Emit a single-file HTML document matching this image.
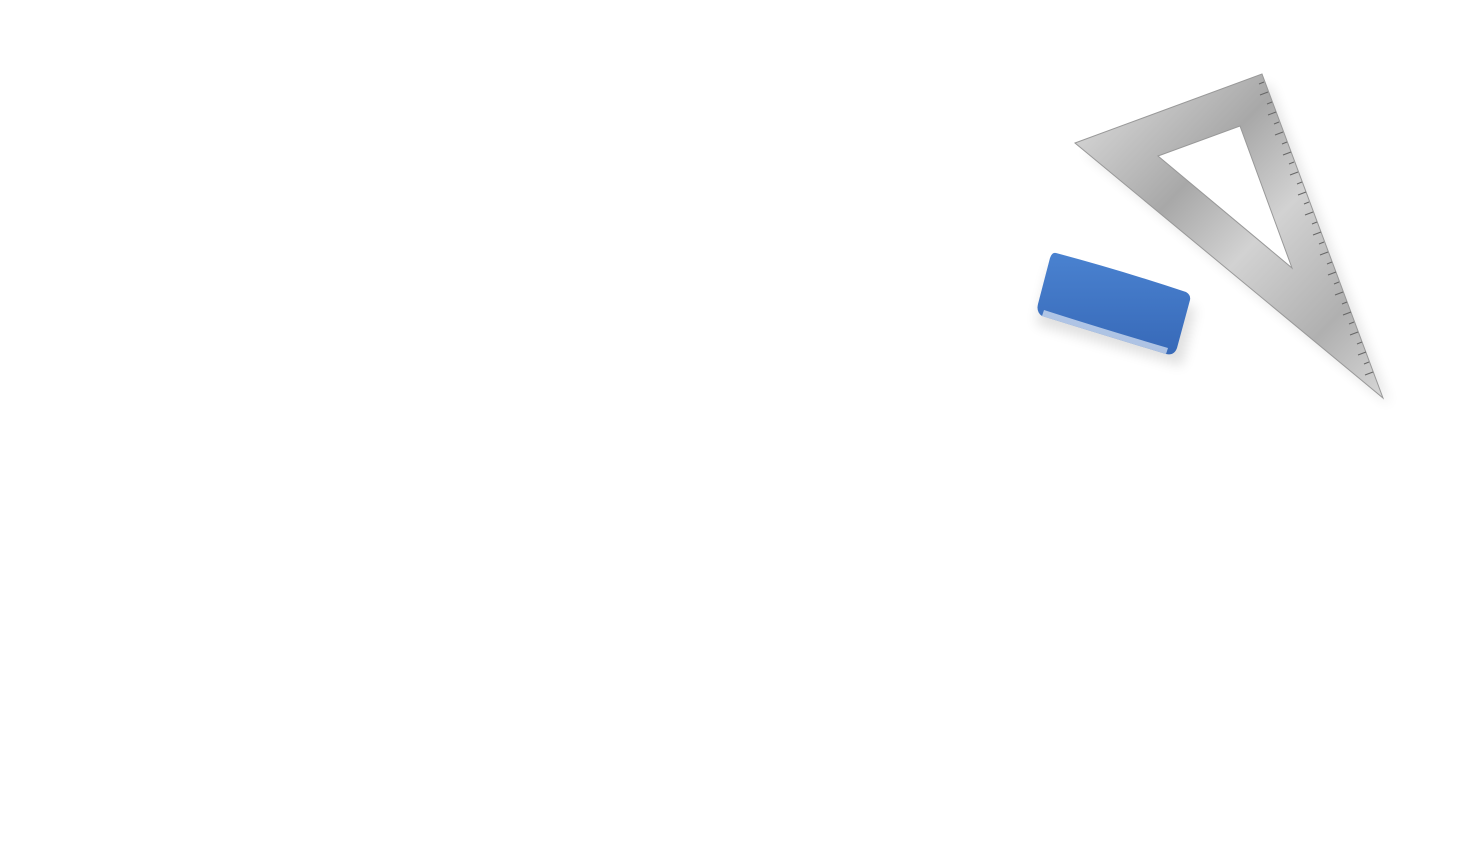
<!DOCTYPE html>
<html><head><meta charset="utf-8"><style>
html,body{margin:0;padding:0;background:#fff;width:1458px;height:859px;overflow:hidden}
</style></head><body>
<svg width="1458" height="859" viewBox="0 0 1458 859" xmlns="http://www.w3.org/2000/svg">
<defs>
<linearGradient id="m" x1="0" y1="0" x2="1" y2="1">
<stop offset="0" stop-color="#e2e2e2"/><stop offset="0.35" stop-color="#a8a8a8"/>
<stop offset="0.55" stop-color="#d2d2d2"/><stop offset="0.8" stop-color="#b0b0b0"/><stop offset="1" stop-color="#d6d6d6"/>
</linearGradient>
<linearGradient id="b" x1="0" y1="0" x2="0" y2="1">
<stop offset="0" stop-color="#4a82d0"/><stop offset="1" stop-color="#3769b8"/>
</linearGradient>
<filter id="s" x="-20%" y="-20%" width="140%" height="140%"><feGaussianBlur stdDeviation="6"/></filter>
</defs>
<path d="M1085 152 L1270 84 L1390 405 Z" fill="#000" opacity="0.1" filter="url(#s)"/>
<path d="M1158 156 L1240 126 L1292 268 Z" fill="#fff"/>
<path fill-rule="evenodd" d="M1075 143 L1262 74 L1383 398 Z M1158 156 L1240 126 L1292 268 Z" fill="url(#m)" stroke="#999" stroke-width="1"/>
<g stroke="#666" stroke-width="1">
<path d="M1264 82 l-5 2 M1268 92 l-8 3 M1272 102 l-5 2 M1276 112 l-8 3 M1279 122 l-5 2 M1283 132 l-8 3 M1287 142 l-5 2 M1291 152 l-8 3 M1294 162 l-5 2 M1298 172 l-8 3 M1302 182 l-5 2 M1306 192 l-8 3 M1309 202 l-5 2 M1313 212 l-8 3 M1317 222 l-5 2 M1321 232 l-8 3 M1324 242 l-5 2 M1328 252 l-8 3 M1332 262 l-5 2 M1336 272 l-8 3 M1339 282 l-5 2 M1343 292 l-8 3 M1347 302 l-5 2 M1351 312 l-8 3 M1354 322 l-5 2 M1358 332 l-8 3 M1362 342 l-5 2 M1366 352 l-8 3 M1369 362 l-5 2 M1373 372 l-8 3"/>
</g>
<path d="M1050 266 L1196 308 L1182 366 L1036 324 Z" fill="#000" opacity="0.12" filter="url(#s)"/>
<path d="M1056 253 Q1120 270 1186 292 Q1191 295 1190 300 L1177 348 Q1174 356 1166 354 Q1100 334 1042 316 Q1036 312 1038 304 L1050 258 Q1052 252 1056 253 Z" fill="url(#b)"/>
<path d="M1042 316 Q1100 334 1166 354 L1168 348 Q1100 328 1044 310 Z" fill="#dfe8f5" opacity="0.7"/>
</svg>
</body></html>
